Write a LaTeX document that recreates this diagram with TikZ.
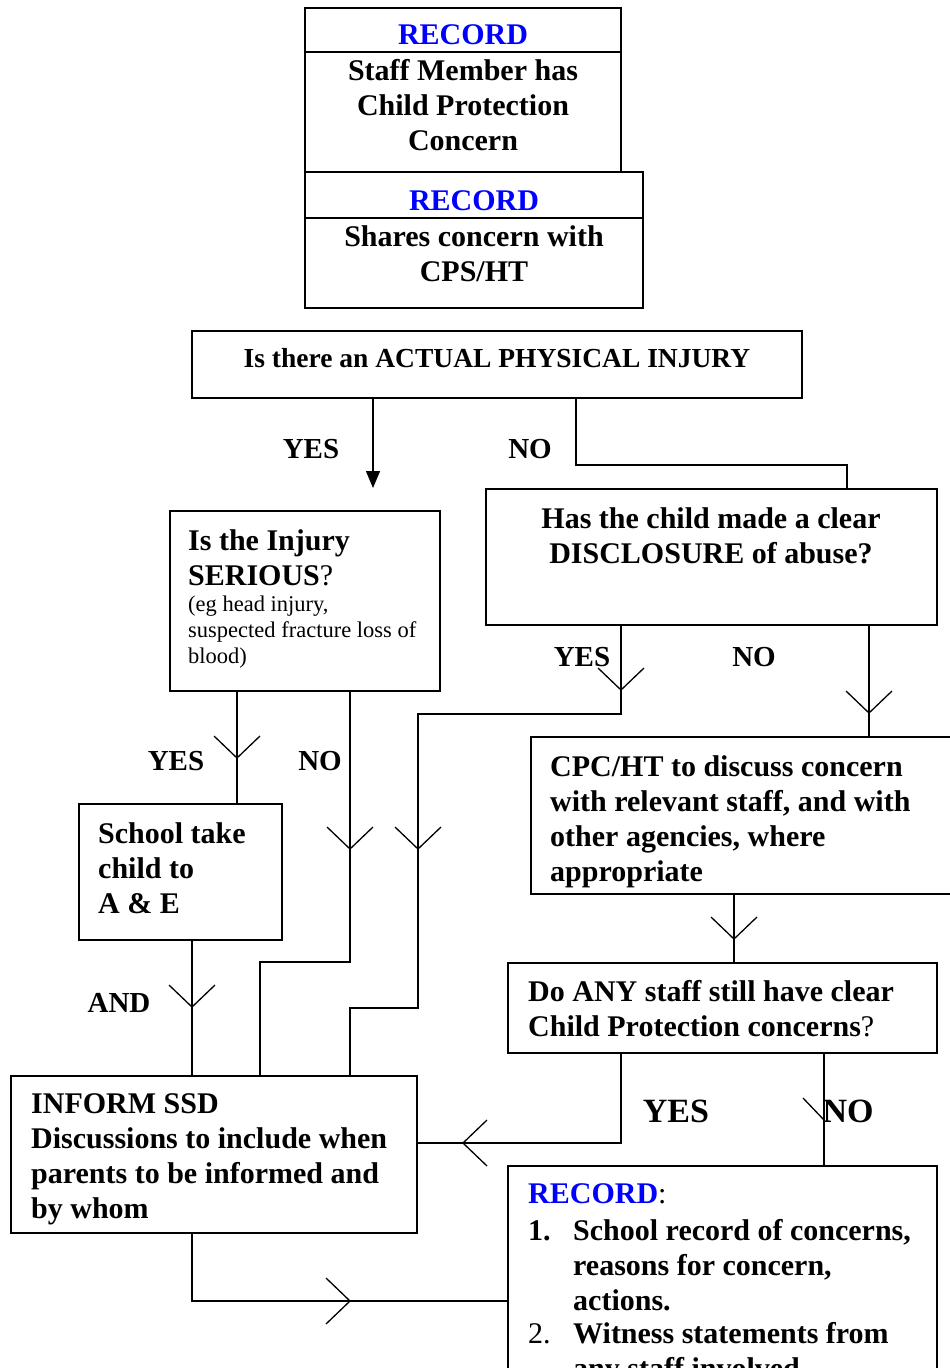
\documentclass[tikz,border=0pt]{standalone}
\usepackage{fontspec}
\setmainfont{Liberation Serif}
\usetikzlibrary{arrows.meta}
\definecolor{recblue}{RGB}{0,0,255}
\tikzset{
  box/.style={draw, line width=1.6pt, inner sep=0pt, outer sep=0pt, anchor=north west},
  conn/.style={line width=1.3pt},
  big/.style={font=\fontsize{30}{35}\selectfont\bfseries, inner sep=0pt},
  lbl/.style={font=\fontsize{29}{34}\selectfont\bfseries, inner sep=0pt, anchor=base},
  lblbig/.style={font=\fontsize{34}{38}\selectfont\bfseries, inner sep=0pt, anchor=base},
  small/.style={font=\fontsize{22.5}{26}\selectfont, inner sep=0pt},
  vdown/.pic={\draw[conn] (-23,-22) -- (0,0) -- (23,-22);},
  vleft/.pic={\draw[conn] (24,-23) -- (0,0) -- (24,23);},
  vright/.pic={\draw[conn] (-24,-23) -- (0,0) -- (-24,23);},
  vhalf/.pic={\draw[conn] (-21,-22) -- (0,0);}
}
\begin{document}
\begin{tikzpicture}[x=1pt,y=-1pt]
\clip (0,0) rectangle (950,1368);
\fill[white] (0,0) rectangle (950,1368);

% boxes
\node[box, minimum width=316pt, minimum height=164pt] (b1) at (305,8) {};
\node[box, minimum width=338pt, minimum height=136pt] (b2) at (305,172) {};
\node[box, minimum width=610pt, minimum height=67pt] (b3) at (192,331) {};
\node[box, minimum width=451pt, minimum height=136pt] (b4) at (486,489) {};
\node[box, minimum width=270pt, minimum height=180pt] (b5) at (170,511) {};
\node[box, minimum width=203pt, minimum height=136pt] (b6) at (79,804) {};
\node[box, minimum width=406pt, minimum height=157pt] (b7) at (11,1076) {};
\node[box, minimum width=450pt, minimum height=157pt] (b8) at (531,737) {};
\node[box, minimum width=429pt, minimum height=90pt] (b9) at (508,963) {};
\node[box, minimum width=429pt, minimum height=260pt] (b10) at (508,1166) {};

% dividers
\draw[line width=1.6pt] (b1.west |- 0,52) -- (b1.east |- 0,52);
\draw[line width=1.6pt] (b2.west |- 0,218) -- (b2.east |- 0,218);

% texts
\node[big, anchor=north, text=recblue] (r1) at (463,24) {RECORD};
\node[big, anchor=north, align=center] (t1) at (463,59) {Staff Member has\\Child Protection\\Concern};
\node[big, anchor=north, text=recblue] (r2) at (474,190) {RECORD};
\node[big, anchor=north, align=center] (t2) at (474,225) {Shares concern with\\CPS/HT};
\node[font=\fontsize{27.5}{32}\selectfont\bfseries, inner sep=0pt, anchor=base] (t3) at (497,367) {Is there an ACTUAL PHYSICAL INJURY};
\node[big, anchor=north, align=center] (t4) at (711,507) {Has the child made a clear\\DISCLOSURE of abuse?};
\node[big, anchor=north west, align=left] (t5) at (188,529) {Is the Injury\\SERIOUS{\mdseries ?}};
\node[small, anchor=north west, align=left] (t5b) at (188,596) {(eg head injury,\\suspected fracture loss of\\blood)};
\node[big, anchor=north west, align=left] (t6) at (98,822) {School take\\child to\\A \& E};
\node[big, anchor=north west, align=left] (t8) at (550,755) {CPC/HT to discuss concern\\with relevant staff, and with\\other agencies, where\\appropriate};
\node[big, anchor=north west, align=left] (t9) at (528,980) {Do ANY staff still have clear\\Child Protection concerns{\mdseries ?}};
\node[big, anchor=north west, align=left] (t7) at (31,1093) {INFORM SSD\\Discussions to include when\\parents to be informed and\\by whom};
\node[big, anchor=north west] (r3) at (528,1183) {\textcolor{recblue}{RECORD}{\mdseries :}};
\node[big, anchor=base west] (n1) at (528,1240) {1.};
\node[big, anchor=north west, align=left] (i1) at (573,1219) {School record of concerns,\\reasons for concern,\\actions.};
\node[big, anchor=base west, font=\fontsize{30}{35}\selectfont] (n2) at (528,1343) {2.};
\node[big, anchor=north west, align=left] (i2) at (573,1322) {Witness statements from\\any staff involved};

% labels
\node[lbl] (y1) at (311,458) {YES};
\node[lbl] (no1) at (530,458) {NO};
\node[lbl] (y2) at (176,770) {YES};
\node[lbl] (no2) at (320,770) {NO};
\node[lbl] (y3) at (582,666) {YES};
\node[lbl] (no3) at (754,666) {NO};
\node[lbl] (and) at (119,1012) {AND};
\node[lblbig] (y4) at (676,1122) {YES};
\node[lblbig] (no4) at (848,1122) {NO};

% connectors
\coordinate (yesend) at (373,488);
\draw[conn, -{Triangle[width=14pt,length=17pt]}] (b3.south -| yesend) -- (yesend);
\draw[conn] (b3.south -| 576,0) -- (576,465) -- (847,465) -- (b4.north -| 847,0);
\draw[conn] (b5.south -| 237,0) -- (b6.north -| 237,0);
\draw[conn] (b5.south -| 350,0) -- (350,962) -- (260,962) -- (b7.north -| 260,0);
\draw[conn] (b4.south -| 621,0) -- (621,714) -- (418,714) -- (418,1008) -- (350,1008) -- (b7.north -| 350,0);
\draw[conn] (b4.south -| 869,0) -- (b8.north -| 869,0);
\draw[conn] (b8.south -| 734,0) -- (b9.north -| 734,0);
\draw[conn] (b6.south -| 192,0) -- (b7.north -| 192,0);
\draw[conn] (b9.south -| 621,0) -- (621,1143) -- (b7.east |- 0,1143);
\draw[conn] (b9.south -| 824,0) -- (b10.north -| 824,0);
\draw[conn] (b7.south -| 192,0) -- (192,1301) -- (b10.west |- 0,1301);

% open arrowheads
\pic at (237,758) {vdown};
\pic at (350,849) {vdown};
\pic at (621,690) {vdown};
\pic at (418,849) {vdown};
\pic at (869,713) {vdown};
\pic at (734,939) {vdown};
\pic at (192,1007) {vdown};
\pic at (463,1143) {vleft};
\pic at (350,1301) {vright};
\pic at (824,1120) {vhalf};
\end{tikzpicture}
\end{document}
